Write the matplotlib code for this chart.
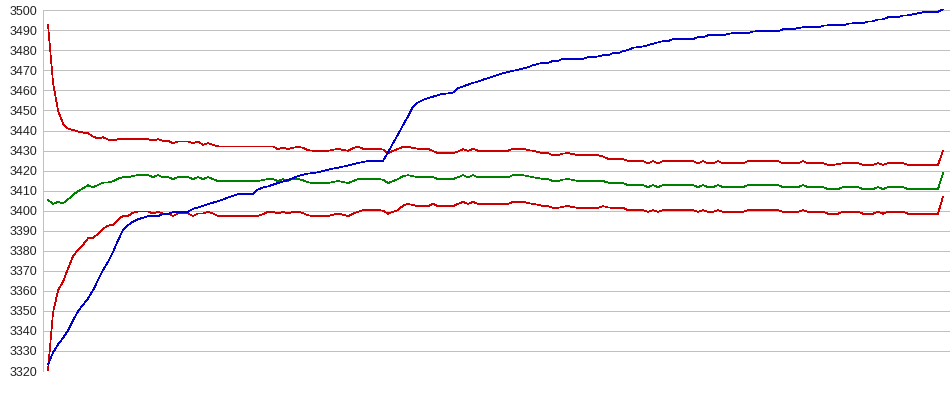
import numpy as np
import matplotlib
matplotlib.use("Agg")
import matplotlib.pyplot as plt

plt.rcParams['font.family'] = ['Liberation Sans', 'DejaVu Sans']

# upper band (red)
upper = [
    3492.7, 3464.0, 3450.0, 3443.5, 3441.0, 3440.3, 3439.5, 3439.0, 3438.7, 3437.0,
    3436.0, 3436.7, 3435.5, 3435.0, 3435.7, 3435.7, 3435.7, 3435.7, 3435.7, 3435.7,
    3435.7, 3435.0, 3435.7, 3434.9, 3434.9, 3433.7, 3434.5, 3434.5, 3434.5, 3433.7,
    3434.5, 3432.9, 3433.7, 3432.9, 3432.1, 3432.1, 3432.1, 3432.1, 3432.1, 3432.1,
    3432.1, 3432.1, 3432.1, 3432.1, 3432.1, 3432.1, 3430.7, 3431.4, 3430.7, 3431.4,
    3431.9, 3431.4, 3430.2, 3429.9, 3429.9, 3429.9, 3429.9, 3430.4, 3430.9, 3430.3,
    3429.9, 3431.2, 3431.9, 3430.9, 3430.9, 3430.9, 3430.9, 3430.5, 3428.7, 3429.9,
    3430.8, 3431.9, 3431.9, 3431.3, 3430.9, 3430.9, 3430.9, 3429.8, 3428.7, 3428.7,
    3428.7, 3428.7, 3429.5, 3430.7, 3429.8, 3430.9, 3429.9, 3429.9, 3429.9, 3429.9,
    3429.9, 3429.9, 3429.9, 3430.9, 3430.9, 3430.9, 3430.2, 3429.9, 3429.3, 3428.7,
    3428.7, 3427.7, 3427.7, 3428.5, 3428.7, 3428.3, 3427.7, 3427.7, 3427.7, 3427.7,
    3427.7, 3427.0, 3425.9, 3425.7, 3425.7, 3425.7, 3424.8, 3424.7, 3424.7, 3424.7,
    3423.7, 3424.7, 3423.7, 3424.7, 3424.7, 3424.7, 3424.7, 3424.7, 3424.7, 3424.7,
    3423.7, 3424.7, 3423.7, 3423.7, 3424.7, 3423.7, 3423.7, 3423.7, 3423.7, 3423.7,
    3424.7, 3424.7, 3424.7, 3424.7, 3424.7, 3424.7, 3424.7, 3423.7, 3423.7, 3423.7,
    3423.7, 3424.7, 3423.7, 3423.7, 3423.7, 3423.7, 3422.9, 3422.9, 3423.2, 3423.7,
    3423.7, 3423.7, 3423.7, 3422.9, 3422.9, 3422.9, 3423.7, 3422.9, 3423.7, 3423.7,
    3423.7, 3423.7, 3422.9, 3422.9, 3422.9, 3422.9, 3422.9, 3422.9, 3422.9, 3429.9,
]

# middle line (green)
middle = [
    3405.4, 3403.4, 3404.4, 3403.7, 3405.6, 3408.0, 3409.7, 3411.2, 3412.7, 3411.7,
    3412.8, 3414.0, 3414.0, 3414.7, 3416.0, 3416.7, 3416.7, 3417.4, 3417.7, 3417.7,
    3417.7, 3416.8, 3417.7, 3416.7, 3416.7, 3415.8, 3416.7, 3416.7, 3416.7, 3415.8,
    3416.7, 3415.8, 3416.7, 3415.8, 3414.8, 3414.8, 3414.8, 3414.8, 3414.8, 3414.8,
    3414.8, 3414.8, 3414.8, 3415.3, 3415.8, 3415.8, 3414.8, 3415.8, 3414.8, 3416.0,
    3415.8, 3415.2, 3414.2, 3413.8, 3413.8, 3413.8, 3413.8, 3414.3, 3414.8, 3414.3,
    3413.8, 3414.8, 3415.8, 3415.8, 3415.8, 3415.8, 3415.8, 3415.5, 3413.8, 3414.8,
    3415.8, 3417.2, 3417.7, 3417.2, 3416.7, 3416.7, 3416.7, 3416.7, 3415.8, 3415.8,
    3415.8, 3415.8, 3416.7, 3417.7, 3416.7, 3417.7, 3416.7, 3416.7, 3416.7, 3416.7,
    3416.7, 3416.7, 3416.7, 3417.7, 3417.7, 3417.7, 3417.2, 3416.7, 3416.3, 3415.8,
    3415.8, 3414.8, 3414.8, 3415.5, 3415.8, 3415.3, 3414.8, 3414.8, 3414.8, 3414.8,
    3414.8, 3414.8, 3414.0, 3413.8, 3413.8, 3413.8, 3412.8, 3412.8, 3412.8, 3412.8,
    3411.8, 3412.8, 3411.8, 3412.8, 3412.8, 3412.8, 3412.8, 3412.8, 3412.8, 3412.8,
    3411.8, 3412.8, 3411.8, 3411.8, 3412.8, 3411.8, 3411.8, 3411.8, 3411.8, 3411.8,
    3412.8, 3412.8, 3412.8, 3412.8, 3412.8, 3412.8, 3412.8, 3411.8, 3411.8, 3411.8,
    3411.8, 3412.8, 3411.8, 3411.8, 3411.8, 3411.8, 3410.8, 3410.8, 3410.8, 3411.8,
    3411.8, 3411.8, 3411.8, 3410.8, 3410.8, 3410.8, 3411.8, 3410.8, 3411.8, 3411.8,
    3411.8, 3411.8, 3410.8, 3410.8, 3410.8, 3410.8, 3410.8, 3410.8, 3410.8, 3418.7,
]

# lower band (red)
lower = [
    3320.3, 3349.0, 3360.2, 3364.6, 3371.0, 3377.2, 3380.5, 3383.0, 3386.2, 3386.3,
    3388.5, 3391.0, 3392.5, 3393.0, 3395.5, 3397.4, 3397.4, 3399.0, 3399.6, 3399.6,
    3399.6, 3398.6, 3399.5, 3398.6, 3398.6, 3397.4, 3398.6, 3398.6, 3398.6, 3397.4,
    3398.6, 3398.6, 3399.5, 3398.6, 3397.4, 3397.4, 3397.4, 3397.4, 3397.4, 3397.4,
    3397.4, 3397.4, 3397.4, 3398.2, 3399.5, 3399.5, 3398.6, 3399.5, 3398.6, 3399.5,
    3399.5, 3398.8, 3397.7, 3397.3, 3397.3, 3397.3, 3397.3, 3398.0, 3398.5, 3398.0,
    3397.3, 3398.5, 3399.5, 3400.3, 3400.3, 3400.3, 3400.3, 3400.0, 3398.5, 3399.5,
    3400.3, 3402.5, 3403.4, 3402.8, 3402.3, 3402.3, 3402.3, 3403.4, 3402.3, 3402.3,
    3402.3, 3402.3, 3403.4, 3404.4, 3403.4, 3404.4, 3403.4, 3403.4, 3403.4, 3403.4,
    3403.4, 3403.4, 3403.4, 3404.4, 3404.4, 3404.4, 3403.8, 3403.4, 3403.0, 3402.3,
    3402.3, 3401.4, 3401.4, 3402.0, 3402.3, 3401.8, 3401.4, 3401.4, 3401.4, 3401.4,
    3401.4, 3402.3, 3401.6, 3401.4, 3401.4, 3401.4, 3400.3, 3400.3, 3400.3, 3400.3,
    3399.5, 3400.3, 3399.5, 3400.3, 3400.3, 3400.3, 3400.3, 3400.3, 3400.3, 3400.3,
    3399.5, 3400.3, 3399.5, 3399.5, 3400.3, 3399.5, 3399.5, 3399.5, 3399.5, 3399.5,
    3400.3, 3400.3, 3400.3, 3400.3, 3400.3, 3400.3, 3400.3, 3399.5, 3399.5, 3399.5,
    3399.5, 3400.3, 3399.5, 3399.5, 3399.5, 3399.5, 3398.5, 3398.5, 3398.5, 3399.5,
    3399.5, 3399.5, 3399.5, 3398.5, 3398.5, 3398.5, 3399.5, 3398.5, 3399.5, 3399.5,
    3399.5, 3399.5, 3398.5, 3398.5, 3398.5, 3398.5, 3398.5, 3398.5, 3398.5, 3407.1,
]

# rising line (blue)
blue = [
    3323.2, 3329.2, 3333.2, 3336.5, 3340.2, 3345.2, 3349.8, 3353.0, 3356.2, 3360.3,
    3365.3, 3370.3, 3374.5, 3379.4, 3385.2, 3390.3, 3392.8, 3394.5, 3395.7, 3396.5,
    3397.3, 3397.3, 3397.3, 3398.3, 3398.3, 3399.3, 3399.5, 3399.5, 3399.5, 3400.9,
    3401.6, 3402.4, 3403.2, 3404.0, 3404.8, 3405.6, 3406.6, 3407.4, 3408.3, 3408.3,
    3408.3, 3408.3, 3410.6, 3411.6, 3412.1, 3413.0, 3413.8, 3414.5, 3415.3, 3416.2,
    3417.3, 3417.9, 3418.5, 3418.8, 3419.2, 3419.8, 3420.4, 3421.0, 3421.4, 3422.0,
    3422.5, 3423.2, 3423.8, 3424.3, 3424.8, 3424.8, 3424.8, 3424.8, 3429.0, 3433.7,
    3438.0, 3442.7, 3447.0, 3452.0, 3454.0, 3455.3, 3456.2, 3456.9, 3457.7, 3458.3,
    3458.5, 3459.0, 3461.1, 3462.0, 3462.9, 3463.8, 3464.4, 3465.4, 3466.1, 3467.0,
    3467.8, 3468.6, 3469.2, 3469.8, 3470.3, 3471.0, 3471.6, 3472.6, 3473.3, 3473.7,
    3473.7, 3474.8, 3474.8, 3475.8, 3475.8, 3475.8, 3475.8, 3475.8, 3476.6, 3476.6,
    3477.0, 3477.6, 3477.6, 3478.6, 3478.6, 3479.6, 3480.2, 3481.3, 3481.6, 3482.0,
    3482.6, 3483.3, 3484.0, 3484.6, 3484.6, 3485.6, 3485.6, 3485.6, 3485.6, 3485.6,
    3486.6, 3486.6, 3487.5, 3487.6, 3487.6, 3487.6, 3488.2, 3488.6, 3488.6, 3488.6,
    3488.6, 3489.4, 3489.6, 3489.6, 3489.6, 3489.6, 3489.6, 3490.5, 3490.5, 3490.5,
    3491.2, 3491.5, 3491.5, 3491.5, 3491.5, 3492.3, 3492.5, 3492.5, 3492.5, 3492.5,
    3493.3, 3493.5, 3493.5, 3493.5, 3494.4, 3494.5, 3495.4, 3495.5, 3496.5, 3496.5,
    3496.6, 3497.4, 3497.5, 3498.0, 3498.5, 3499.0, 3499.3, 3499.3, 3499.3, 3500.4,
]

fig = plt.figure(figsize=(9.5, 3.95), dpi=100)
ax = fig.add_axes([43 / 950, 24 / 395, 907 / 950, 360.7 / 395])

x = np.arange(len(blue))
for vals, col in ((upper, '#cc0000'), (middle, '#008000'),
                  (lower, '#cc0000'), (blue, '#0000cc')):
    ax.plot(x, vals, color=col, lw=0.5, antialiased=False, clip_on=False)

ax.set_xlim(-1, 180.4)
ax.set_ylim(3320, 3500)
ax.set_yticks(range(3320, 3501, 10))
ax.set_xticks([])
ax.grid(axis='y', color='#c0c0c0', lw=0.72, antialiased=False)
ax.set_axisbelow(True)
for s in ('top', 'right', 'bottom'):
    ax.spines[s].set_visible(False)
ax.spines['left'].set_color('#c0c0c0')
ax.spines['left'].set_linewidth(0.72)
ax.tick_params(axis='y', length=0, pad=4.3, labelsize=9, labelcolor='#222222')

fig.savefig('out.png', dpi=100)
